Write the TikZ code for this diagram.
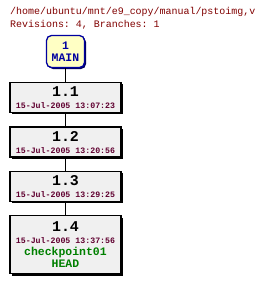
\documentclass[tikz,border=0pt]{standalone}
\usepackage{fontspec}
\setmonofont{Liberation Mono}
\usepackage{xcolor}
\definecolor{hdrcol}{HTML}{800000}
\definecolor{datecol}{HTML}{600030}
\definecolor{tagcol}{HTML}{008000}
\definecolor{maincol}{HTML}{0000A0}
\definecolor{mainfill}{HTML}{FFFFC4}
\definecolor{revfill}{HTML}{F0F0F0}
\usepackage{tikz}
\usetikzlibrary{positioning, shadows}

\newcommand{\revnum}[1]{{\fontsize{15}{14}\selectfont\bfseries #1}}
\newcommand{\revdate}[1]{{\color{datecol}\fontsize{8.3}{10.5}\selectfont\bfseries #1}}
\newcommand{\revtag}[1]{{\color{tagcol}\fontsize{11.5}{12}\selectfont\bfseries #1}}

\begin{document}
\begin{tikzpicture}[
  x=1bp, y=1bp,
  node distance=13.5bp,
  every node/.style={font=\ttfamily},
  revbox/.style={
    rectangle, draw=black, line width=1.3bp, fill=revfill,
    minimum width=111bp, minimum height=30bp, inner sep=0pt,
    align=center,
    drop shadow={shadow xshift=2bp, shadow yshift=-2bp, fill=black, opacity=1}
  },
  branchbox/.style={
    rectangle, rounded corners=5bp, draw=maincol, line width=1.3bp,
    fill=mainfill, text=maincol, minimum width=38bp, minimum height=32bp,
    inner sep=0pt, align=center,
    drop shadow={shadow xshift=1.5bp, shadow yshift=-1.5bp, fill=maincol!60!black, opacity=1}
  },
  header/.style={anchor=west, inner sep=0pt, text=hdrcol, font=\ttfamily\fontsize{10}{12}\selectfont},
  link/.style={draw=black, line width=1bp},
]
  \useasboundingbox (0,0) rectangle (266,-281);

  \node[header] (path) at (10,-12) {/home/ubuntu/mnt/e9\_copy/manual/pstoimg,v};
  \node[header] (info) at (10,-25) {Revisions: 4, Branches: 1};

  \node[branchbox] (main) at (65.5,-51.5)
    {{\fontsize{11.5}{14}\selectfont\bfseries 1}\\{\fontsize{11.5}{12}\selectfont\bfseries MAIN}};
  \node[revbox, below=of main] (r1) {\revnum{1.1}\\\revdate{15-Jul-2005 13:07:23}};
  \node[revbox, below=of r1] (r2) {\revnum{1.2}\\\revdate{15-Jul-2005 13:20:56}};
  \node[revbox, below=13bp of r2] (r3) {\revnum{1.3}\\\revdate{15-Jul-2005 13:29:25}};
  \node[revbox, below=13bp of r3, minimum height=58bp] (r4)
    {\revnum{1.4}\\\revdate{15-Jul-2005 13:37:56}\\\revtag{checkpoint01}\\\revtag{HEAD}};

  \draw[link] (main) -- (r1);
  \draw[link] (r1) -- (r2);
  \draw[link] (r2) -- (r3);
  \draw[link] (r3) -- (r4);
\end{tikzpicture}
\end{document}
